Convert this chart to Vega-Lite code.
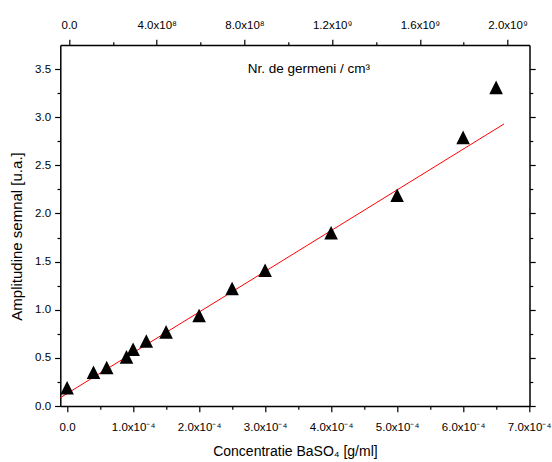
{
  "$schema": "https://vega.github.io/schema/vega-lite/v6.json",
  "width": 469.2,
  "height": 361,
  "autosize": {"type": "none"},
  "padding": {"left": 60.3, "top": 45, "right": 22.5, "bottom": 56},
  "background": "white",
  "config": {
    "view": {"stroke": null},
    "axis": {
      "labelFont": "Liberation Sans",
      "labelFontSize": 11.5,
      "labelColor": "#000000",
      "tickColor": "#000000",
      "domainColor": "#000000",
      "domainWidth": 1.5,
      "tickWidth": 1.2,
      "grid": false,
      "titleFont": "Liberation Sans",
      "titleFontWeight": "normal",
      "titleColor": "#000000",
      "labelFlush": false,
      "labelOverlap": false
    }
  },
  "datasets": {
    "pts": [
      {"c": 0.0, "a": 0.19},
      {"c": 0.00004, "a": 0.35},
      {"c": 0.00006, "a": 0.40},
      {"c": 0.00009, "a": 0.51},
      {"c": 0.0001, "a": 0.59},
      {"c": 0.00012, "a": 0.675},
      {"c": 0.00015, "a": 0.77},
      {"c": 0.0002, "a": 0.94},
      {"c": 0.00025, "a": 1.22},
      {"c": 0.0003, "a": 1.41},
      {"c": 0.0004, "a": 1.80},
      {"c": 0.0005, "a": 2.19},
      {"c": 0.0006, "a": 2.79},
      {"c": 0.00065, "a": 3.31}
    ],
    "fit": [
      {"c": -0.0000103, "a": 0.086},
      {"c": 0.000662, "a": 2.93}
    ]
  },
  "layer": [
    {
      "data": {"name": "fit"},
      "mark": {"type": "line", "color": "#ff0000", "strokeWidth": 1},
      "encoding": {
        "x": {"field": "c", "type": "quantitative", "scale": {"domain": [-0.0000103, 0.0007006], "nice": false, "zero": false}, "axis": null},
        "y": {"field": "a", "type": "quantitative", "scale": {"domain": [0, 3.75], "nice": false, "zero": false}, "axis": null}
      }
    },
    {
      "data": {"name": "pts"},
      "mark": {"type": "point", "shape": "M0,-1L1,1L-1,1Z", "filled": true, "size": 185, "color": "#000000", "opacity": 1},
      "encoding": {
        "x": {
          "field": "c", "type": "quantitative",
          "scale": {"domain": [-0.0000103, 0.0007006], "nice": false, "zero": false},
          "axis": {
            "orient": "bottom",
            "values": [0, 0.0001, 0.0002, 0.0003, 0.0004, 0.0005, 0.0006, 0.0007],
            "tickSize": 5.7,
            "labelPadding": 10,
            "labelExpr": "datum.value == 0 ? '0.0' : format(datum.value * 10000, '.1f') + 'x10⁻⁴'",
            "title": "Concentratie BaSO₄ [g/ml]",
            "titleFontSize": 14,
            "titleBaseline": "top",
            "titleY": 38
          }
        },
        "y": {
          "field": "a", "type": "quantitative",
          "scale": {"domain": [0, 3.75], "nice": false, "zero": false},
          "axis": {
            "orient": "left",
            "values": [0, 0.5, 1, 1.5, 2, 2.5, 3, 3.5],
            "format": ".1f",
            "tickSize": 5.7,
            "labelPadding": 4,
            "title": "Amplitudine semnal [u.a.]",
            "titleFontSize": 15,
            "titleAngle": 270,
            "titleBaseline": "bottom",
            "titleX": -35.5,
            "titleY": 191
          }
        }
      }
    },
    {
      "data": {"values": [{}]},
      "mark": {"type": "text", "font": "Liberation Sans", "fontSize": 13.5, "align": "center", "baseline": "alphabetic", "color": "#000000"},
      "encoding": {
        "x": {"datum": 0.0003663, "type": "quantitative", "scale": {"domain": [-0.0000103, 0.0007006], "nice": false, "zero": false}, "axis": null},
        "y": {"datum": 3.456, "type": "quantitative", "scale": {"domain": [0, 3.75], "nice": false, "zero": false}, "axis": null},
        "text": {"value": "Nr. de germeni / cm³"}
      }
    },
    {
      "data": {"name": "pts"},
      "mark": {"type": "point", "opacity": 0},
      "encoding": {
        "x": {
          "field": "c", "type": "quantitative",
          "scale": {"domain": [-0.0000103, 0.0007006], "nice": false, "zero": false},
          "axis": {"orient": "bottom", "values": [0.00005, 0.00015, 0.00025, 0.00035, 0.00045, 0.00055, 0.00065], "labels": false, "tickSize": 3.3, "domain": false, "title": null}
        },
        "y": {
          "field": "a", "type": "quantitative",
          "scale": {"domain": [0, 3.75], "nice": false, "zero": false},
          "axis": {"orient": "left", "values": [0.25, 0.75, 1.25, 1.75, 2.25, 2.75, 3.25], "labels": false, "tickSize": 3.3, "domain": false, "title": null}
        }
      }
    },
    {
      "data": {"name": "pts"},
      "mark": {"type": "point", "opacity": 0},
      "encoding": {
        "x": {
          "field": "c", "type": "quantitative",
          "scale": {"domain": [-39700000, 2100000000], "nice": false, "zero": false},
          "axis": {
            "orient": "top",
            "values": [0, 400000000, 800000000, 1200000000, 1600000000, 2000000000],
            "tickSize": 5.7,
            "labelPadding": 8.5,
            "labelExpr": "datum.value == 0 ? '0.0' : (datum.value < 1000000000 ? format(datum.value / 100000000, '.1f') + 'x10⁸' : format(datum.value / 1000000000, '.1f') + 'x10⁹')",
            "title": null
          }
        },
        "y": {
          "field": "a", "type": "quantitative",
          "scale": {"domain": [0, 3.75], "nice": false, "zero": false},
          "axis": {"orient": "right", "values": [0, 0.5, 1, 1.5, 2, 2.5, 3, 3.5], "labels": false, "tickSize": 5.7, "title": null}
        }
      }
    },
    {
      "data": {"name": "pts"},
      "mark": {"type": "point", "opacity": 0},
      "encoding": {
        "x": {
          "field": "c", "type": "quantitative",
          "scale": {"domain": [-39700000, 2100000000], "nice": false, "zero": false},
          "axis": {"orient": "top", "values": [200000000, 600000000, 1000000000, 1400000000, 1800000000], "labels": false, "tickSize": 3.3, "domain": false, "title": null}
        },
        "y": {
          "field": "a", "type": "quantitative",
          "scale": {"domain": [0, 3.75], "nice": false, "zero": false},
          "axis": {"orient": "right", "values": [0.25, 0.75, 1.25, 1.75, 2.25, 2.75, 3.25], "labels": false, "tickSize": 3.3, "domain": false, "title": null}
        }
      }
    }
  ],
  "resolve": {"scale": {"x": "independent", "y": "independent"}}
}
